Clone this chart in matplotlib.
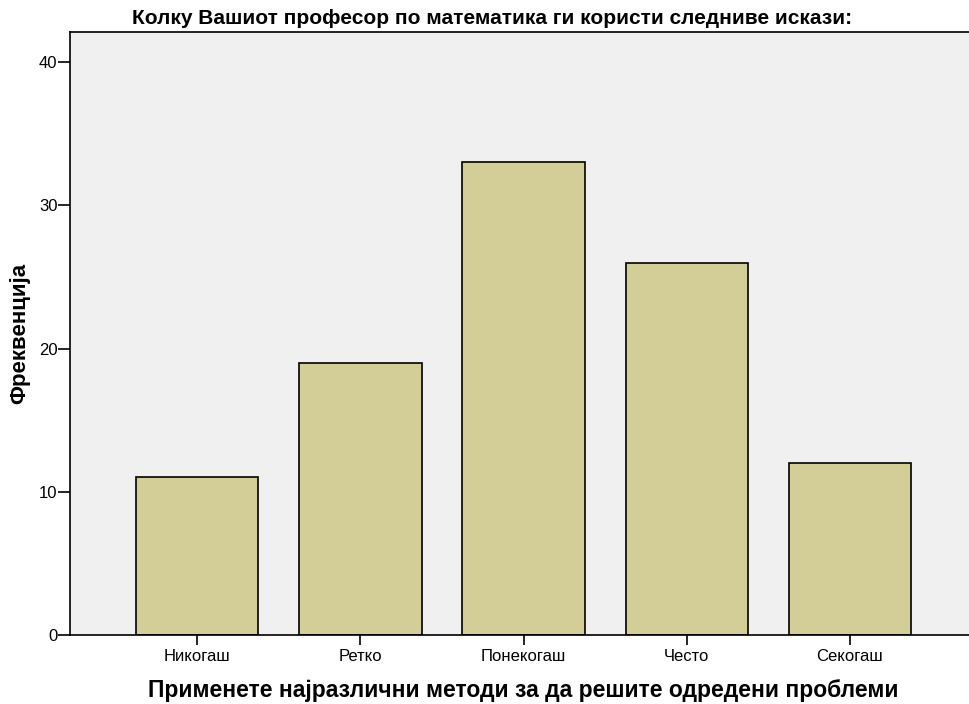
import matplotlib
matplotlib.use("Agg")
import matplotlib.pyplot as plt
import numpy as np

plt.rcParams["font.family"] = ["Liberation Sans", "DejaVu Sans"]

categories = ["Никогаш", "Ретко", "Понекогаш", "Често", "Секогаш"]
counts = [11, 19, 33, 26, 12]
y_ticks = [0, 10, 20, 30, 40]

title = "Колку Вашиот професор по математика ги користи следниве искази:"
x_label = "Применете најразлични методи за да решите одредени проблеми"
y_label = "Фреквенција"

BG = "#F0F0F0"
BAR = "#D3CE98"

fig = plt.figure(figsize=(9.69, 7.04), dpi=100)
ax = fig.add_axes([70 / 969, 69 / 704, 1 - 70 / 969, (635 - 32) / 704])
ax.set_facecolor(BG)

x = np.arange(len(categories))
ax.bar(x, counts, width=0.75, color=BAR, edgecolor="black", linewidth=1.2, zorder=2)

ax.set_xlim(-0.78, 4.73)
ax.set_ylim(0, 42.1)
ax.set_yticks(y_ticks)
ax.set_xticks(x)
ax.set_xticklabels(categories)
ax.tick_params(axis="both", direction="out", labelsize=12, width=1.2, colors="black")
ax.tick_params(axis="y", length=8.5, pad=0.5)
ax.tick_params(axis="x", length=7, pad=3)

for side in ("left", "top", "bottom"):
    ax.spines[side].set_linewidth(1.2)
ax.spines["right"].set_visible(False)

fig.text(492 / 969, 1 - 18 / 704, title, ha="center", va="center",
         fontsize=15, fontweight="bold")
fig.text(523 / 969, 1 - 690 / 704, x_label, ha="center", va="center",
         fontsize=16.5, fontweight="bold")
fig.text(20 / 969, 1 - 333 / 704, y_label, ha="center", va="center",
         rotation=90, fontsize=16, fontweight="bold")

fig.savefig("out.png", dpi=100)
